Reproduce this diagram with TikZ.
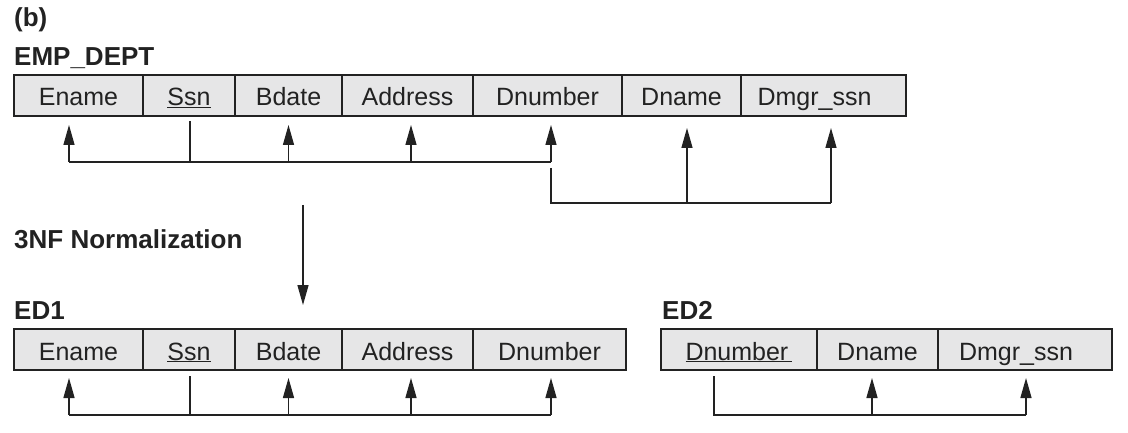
\documentclass[tikz,border=0pt]{standalone}
\usepackage{fontspec}
\setmainfont{Liberation Sans}
\usetikzlibrary{arrows.meta}
\definecolor{cellfill}{HTML}{E6E6E7}
\definecolor{ink}{HTML}{222222}
\tikzset{
  cell/.style={draw=ink, fill=cellfill, line width=1.2pt, minimum height=41pt,
    inner sep=0pt, outer sep=0pt, text height=24pt, text depth=3pt,
    font=\fontsize{25}{29}\selectfont, text=ink},
  title/.style={anchor=base west, inner sep=0pt, font=\fontsize{26}{30}\selectfont\bfseries, text=ink},
  dep/.style={draw=ink, line width=1.4pt},
  deparrow/.style={dep, -{Triangle[length=20pt,width=11pt]}},
}
\begin{document}
\begin{tikzpicture}[x=1pt,y=-1pt]
\useasboundingbox (0,0) rectangle (1128,433);
% titles
\node[title] (lb) at (14,27) {(b)};
\node[title] (lemp) at (14,66) {EMP\_DEPT};
\node[title] (lnorm) at (14,248) {3NF Normalization};
\node[title] (led1) at (14,319) {ED1};
\node[title] (led2) at (662,319) {ED2};
% EMP_DEPT
\node[cell, minimum width=129pt] (enameA) at (78.5,95.5) {Ename};
\node[cell, minimum width=92pt]  (ssnA)   at (189,95.5) {\underline{Ssn}};
\node[cell, minimum width=107pt] (bdateA) at (288.5,95.5) {Bdate};
\node[cell, minimum width=131pt] (addrA)  at (407.5,95.5) {Address};
\node[cell, minimum width=149pt] (dnumA)  at (547.5,95.5) {Dnumber};
\node[cell, minimum width=119pt] (dnameA) at (681.5,95.5) {Dname};
\node[cell, minimum width=165pt] (dmgrA)  at (823.5,95.5) {Dmgr\_ssn\hspace*{18pt}};
% ED1
\node[cell, minimum width=129pt] (enameB) at (78.5,349.5) {Ename};
\node[cell, minimum width=92pt]  (ssnB)   at (189,349.5) {\underline{Ssn}};
\node[cell, minimum width=107pt] (bdateB) at (288.5,349.5) {Bdate};
\node[cell, minimum width=131pt] (addrB)  at (407.5,349.5) {Address};
\node[cell, minimum width=153pt] (dnumB)  at (549.5,349.5) {Dnumber};
% ED2
\node[cell, minimum width=156pt] (dnumC)  at (739,349.5) {\underline{Dnumber\,}};
\node[cell, minimum width=121pt] (dnameC) at (877.5,349.5) {Dname};
\node[cell, minimum width=174pt] (dmgrC)  at (1025,349.5) {Dmgr\_ssn\hspace*{18pt}};

% ---- EMP_DEPT dependencies
\coordinate (h1) at (0,162);
\coordinate (h2) at (0,203);
\draw[dep] ([xshift=1pt,yshift=-5pt]ssnA.south) -- ([xshift=1pt]ssnA.south |- h1);
\draw[dep] ([xshift=-9.5pt]enameA.south |- h1) -- ([xshift=3.5pt]dnumA.south |- h1);
\draw[deparrow] ([xshift=-9.5pt]enameA.south |- h1) -- ([xshift=-9.5pt,yshift=-9pt]enameA.south);
\draw[deparrow] (bdateA.south |- h1) -- ([yshift=-9pt]bdateA.south);
\draw[deparrow] ([xshift=3.5pt]addrA.south |- h1) -- ([xshift=3.5pt,yshift=-9pt]addrA.south);
\draw[deparrow] ([xshift=3.5pt]dnumA.south |- h1) -- ([xshift=3.5pt,yshift=-9pt]dnumA.south);
\draw[dep] ([xshift=3.5pt,yshift=-52pt]dnumA.south) |- ([xshift=7.5pt]dmgrA.south |- h2);
\draw[deparrow] ([xshift=5.5pt]dnameA.south |- h2) -- ([xshift=5.5pt,yshift=-12pt]dnameA.south);
\draw[deparrow] ([xshift=7.5pt]dmgrA.south |- h2) -- ([xshift=7.5pt,yshift=-12pt]dmgrA.south);

% ---- normalization arrow
\coordinate (nstart) at (303,205);
\coordinate (nend) at (303,305);
\draw[deparrow] (nstart) -- (nend);

% ---- ED1 dependencies
\coordinate (h3) at (0,415);
\draw[dep] ([xshift=1pt,yshift=-6pt]ssnB.south) -- ([xshift=1pt]ssnB.south |- h3);
\draw[dep] ([xshift=-9.5pt]enameB.south |- h3) -- ([xshift=1.5pt]dnumB.south |- h3);
\draw[deparrow] ([xshift=-9.5pt]enameB.south |- h3) -- ([xshift=-9.5pt,yshift=-8pt]enameB.south);
\draw[deparrow] (bdateB.south |- h3) -- ([yshift=-8pt]bdateB.south);
\draw[deparrow] ([xshift=3.5pt]addrB.south |- h3) -- ([xshift=3.5pt,yshift=-8pt]addrB.south);
\draw[deparrow] ([xshift=1.5pt]dnumB.south |- h3) -- ([xshift=1.5pt,yshift=-8pt]dnumB.south);

% ---- ED2 dependencies
\draw[dep] ([xshift=-25pt,yshift=-6pt]dnumC.south) |- ([xshift=1pt]dmgrC.south |- h3);
\draw[deparrow] ([xshift=-5.5pt]dnameC.south |- h3) -- ([xshift=-5.5pt,yshift=-8pt]dnameC.south);
\draw[deparrow] ([xshift=1pt]dmgrC.south |- h3) -- ([xshift=1pt,yshift=-8pt]dmgrC.south);
\end{tikzpicture}
\end{document}
